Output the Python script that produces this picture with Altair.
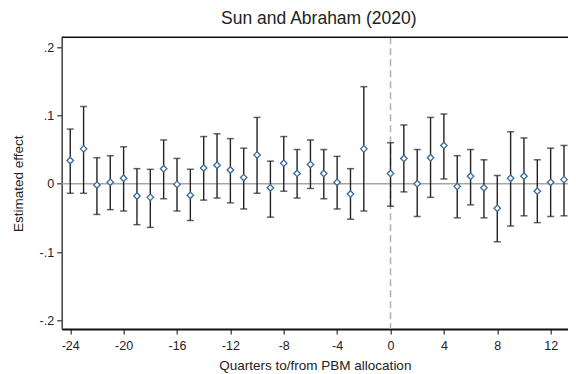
import altair as alt
import pandas as pd

periods = [-24, -23, -22, -21, -20, -19, -18, -17, -16, -15, -14, -13, -12, -11, -10,
           -9, -8, -7, -6, -5, -4, -3, -2, 0, 1, 2, 3, 4, 5, 6, 7, 8, 9, 10, 11, 12, 13]
estimate = [0.034, 0.051, -0.002, 0.002, 0.008, -0.018, -0.020, 0.022, -0.001, -0.017,
            0.023, 0.027, 0.020, 0.009, 0.042, -0.006, 0.030, 0.015, 0.028, 0.015,
            0.002, -0.015, 0.051, 0.015, 0.037, 0.000, 0.038, 0.056, -0.004, 0.011,
            -0.006, -0.036, 0.008, 0.011, -0.011, 0.002, 0.006]
upper = [0.080, 0.113, 0.038, 0.041, 0.054, 0.022, 0.021, 0.064, 0.037, 0.021,
         0.069, 0.073, 0.066, 0.052, 0.097, 0.033, 0.069, 0.050, 0.064, 0.050,
         0.040, 0.022, 0.142, 0.060, 0.086, 0.050, 0.097, 0.102, 0.041, 0.050,
         0.035, 0.012, 0.076, 0.067, 0.035, 0.052, 0.056]
lower = [-0.014, -0.014, -0.045, -0.038, -0.040, -0.060, -0.064, -0.022, -0.040, -0.054,
         -0.024, -0.021, -0.028, -0.037, -0.014, -0.049, -0.011, -0.021, -0.007, -0.022,
         -0.037, -0.052, -0.040, -0.033, -0.012, -0.048, -0.020, 0.007, -0.050, -0.031,
         -0.050, -0.085, -0.062, -0.047, -0.057, -0.048, -0.047]

x_ticks = [-24, -20, -16, -12, -8, -4, 0, 4, 8, 12]
y_ticks = [-0.2, -0.1, 0.0, 0.1, 0.2]

df = pd.DataFrame({"period": periods, "est": estimate, "hi": upper, "lo": lower})

PAD_L = 53.7
W = 560 - PAD_L
H = 291.7
FONT = "Liberation Sans"

xscale = alt.Scale(domain=[-24.64, 13.30], nice=False, zero=False)
yscale = alt.Scale(domain=[-0.2127, 0.2143], nice=False, zero=False)

x_enc = alt.X(
    "period:Q", scale=xscale,
    axis=alt.Axis(
        values=x_ticks, title="Quarters to/from PBM allocation",
        labelExpr="datum.value < 0 ? '-' + (-datum.value) : '' + datum.value",
        grid=False, domainColor="#111111", domainWidth=2, tickColor="#333333",
        tickWidth=1.2, tickSize=5, labelFont=FONT, labelFontSize=12.5,
        labelColor="#222222", labelPadding=5, titleFont=FONT, titleFontSize=13.5,
        titleFontWeight="normal", titleColor="#222222", titlePadding=7,
    ),
)
y_axis = alt.Axis(
    values=y_ticks, title="Estimated effect",
    labelExpr="datum.value > 0.15 ? '.2' : datum.value > 0.05 ? '.1' : datum.value > -0.05 ? '0' : datum.value > -0.15 ? '-.1' : '-.2'",
    grid=False, domainColor="#444444", domainWidth=1.5, tickColor="#333333",
    tickWidth=1.2, tickSize=5, labelFont=FONT, labelFontSize=12.5,
    labelColor="#222222", labelPadding=3, titleFont=FONT, titleFontSize=13.5,
    titleFontWeight="normal", titleColor="#222222", titlePadding=14,
)

base = alt.Chart(df)

zero_line = alt.Chart(pd.DataFrame({"y": [0.0]})).mark_rule(
    color="#a6a6a6", strokeWidth=1.5
).encode(y=alt.Y("y:Q", scale=yscale, axis=y_axis))

vline = alt.Chart(pd.DataFrame({"x": [0]})).mark_rule(
    color="#b0b0b0", strokeWidth=1.5, strokeDash=[7, 4]
).encode(x=alt.X("x:Q", scale=xscale))

top_line = alt.Chart(pd.DataFrame({"a": [0]})).mark_rule(
    color="#111111", strokeWidth=1.5
).encode(x=alt.value(0), x2=alt.value(W), y=alt.value(0))

bars = base.mark_rule(color="#222222", strokeWidth=1.4).encode(
    x=x_enc, y=alt.Y("lo:Q", scale=yscale), y2="hi:Q"
)
cap_hi = base.mark_tick(color="#222222", orient="horizontal", size=7, thickness=1.5).encode(
    x=alt.X("period:Q", scale=xscale), y=alt.Y("hi:Q", scale=yscale)
)
cap_lo = base.mark_tick(color="#222222", orient="horizontal", size=7, thickness=1.5).encode(
    x=alt.X("period:Q", scale=xscale), y=alt.Y("lo:Q", scale=yscale)
)
pts = base.mark_point(
    shape="diamond", filled=False, color="#3a6a9a", fill="white", fillOpacity=1,
    size=42, strokeWidth=1.3, opacity=1
).encode(x=alt.X("period:Q", scale=xscale), y=alt.Y("est:Q", scale=yscale))

chart = alt.layer(zero_line, vline, top_line, bars, cap_hi, cap_lo, pts).properties(
    width=W, height=H,
    title=alt.TitleParams(
        "Sun and Abraham (2020)", font=FONT, fontSize=17.5, fontWeight="normal",
        color="#222222", anchor="middle", offset=9, dx=4,
    ),
    autosize=alt.AutoSizeParams(type="none"),
    padding={"left": PAD_L, "top": 29.3, "right": 0, "bottom": 44},
).configure_view(stroke=None).configure(background="white")

chart.save("out.html", embed_options={"renderer": "svg", "actions": False})
